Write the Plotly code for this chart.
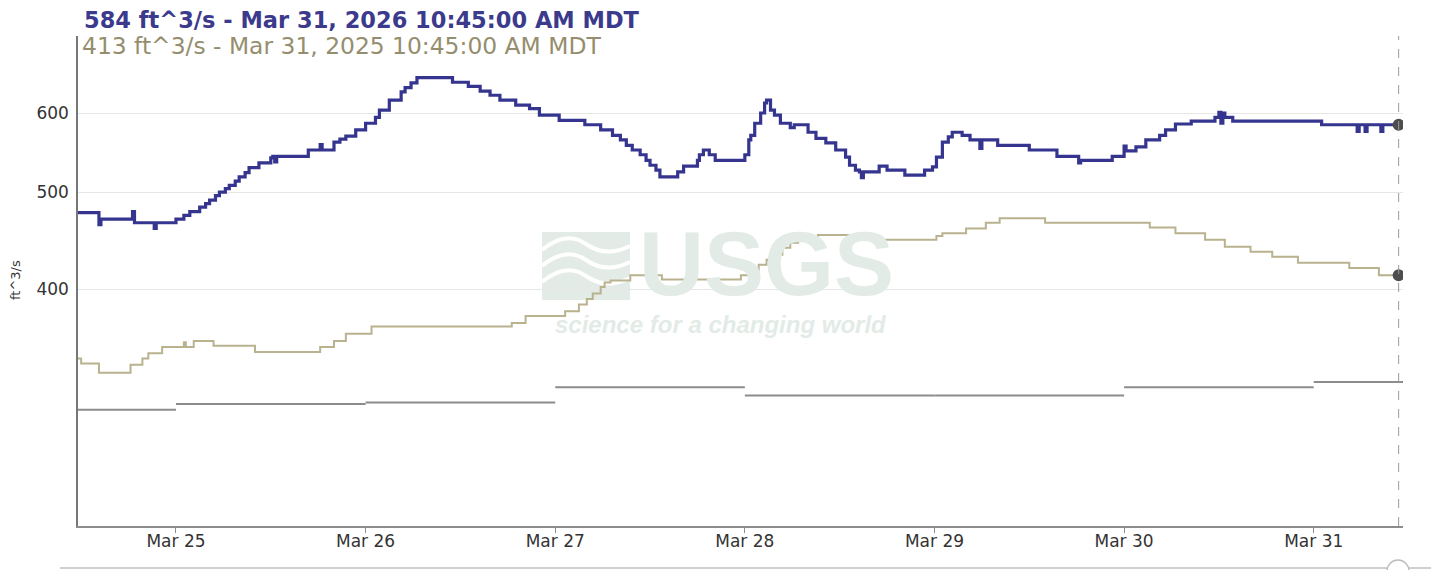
import math
import plotly.graph_objects as go

# ---- Discharge, 15-minute record (value holds until next timestamp) ----
blue_time = [
    "2026-03-24 11:30", "2026-03-24 14:15", "2026-03-24 14:30", "2026-03-24 18:30", "2026-03-24 18:45",
    "2026-03-24 21:15", "2026-03-24 21:30", "2026-03-25 00:00", "2026-03-25 01:00", "2026-03-25 01:45",
    "2026-03-25 03:00", "2026-03-25 03:45", "2026-03-25 04:15", "2026-03-25 05:00", "2026-03-25 05:30",
    "2026-03-25 06:15", "2026-03-25 06:45", "2026-03-25 07:30", "2026-03-25 08:00", "2026-03-25 08:45",
    "2026-03-25 09:15", "2026-03-25 10:30", "2026-03-25 12:00", "2026-03-25 12:15", "2026-03-25 12:30",
    "2026-03-25 12:45", "2026-03-25 16:45", "2026-03-25 18:15", "2026-03-25 18:30", "2026-03-25 20:00",
    "2026-03-25 20:45", "2026-03-25 21:30", "2026-03-25 22:45", "2026-03-26 00:00", "2026-03-26 01:15",
    "2026-03-26 01:45", "2026-03-26 03:00", "2026-03-26 04:30", "2026-03-26 05:00", "2026-03-26 05:45",
    "2026-03-26 06:30", "2026-03-26 11:00", "2026-03-26 13:00", "2026-03-26 14:30", "2026-03-26 15:45",
    "2026-03-26 17:00", "2026-03-26 19:00", "2026-03-26 20:45", "2026-03-26 22:00", "2026-03-27 00:30",
    "2026-03-27 03:45", "2026-03-27 05:45", "2026-03-27 07:15", "2026-03-27 08:15", "2026-03-27 09:00",
    "2026-03-27 09:45", "2026-03-27 10:45", "2026-03-27 11:30", "2026-03-27 12:00", "2026-03-27 12:45",
    "2026-03-27 13:15", "2026-03-27 15:30", "2026-03-27 16:15", "2026-03-27 18:00", "2026-03-27 18:15",
    "2026-03-27 18:45", "2026-03-27 19:30", "2026-03-27 20:15", "2026-03-28 00:00", "2026-03-28 00:30",
    "2026-03-28 00:45", "2026-03-28 01:15", "2026-03-28 02:00", "2026-03-28 02:30", "2026-03-28 02:45",
    "2026-03-28 03:15", "2026-03-28 03:45", "2026-03-28 04:30", "2026-03-28 05:45", "2026-03-28 06:15",
    "2026-03-28 08:00", "2026-03-28 09:00", "2026-03-28 10:15", "2026-03-28 11:30", "2026-03-28 12:45",
    "2026-03-28 13:15", "2026-03-28 14:00", "2026-03-28 14:30", "2026-03-28 14:45", "2026-03-28 15:00",
    "2026-03-28 17:00", "2026-03-28 18:00", "2026-03-28 20:15", "2026-03-28 22:45", "2026-03-28 23:45",
    "2026-03-29 00:15", "2026-03-29 01:00", "2026-03-29 01:45", "2026-03-29 02:15", "2026-03-29 03:30",
    "2026-03-29 04:30", "2026-03-29 05:45", "2026-03-29 06:00", "2026-03-29 08:00", "2026-03-29 12:00",
    "2026-03-29 15:30", "2026-03-29 18:15", "2026-03-29 18:30", "2026-03-29 22:30", "2026-03-30 00:00",
    "2026-03-30 00:15", "2026-03-30 01:30", "2026-03-30 02:45", "2026-03-30 04:30", "2026-03-30 05:15",
    "2026-03-30 06:30", "2026-03-30 08:30", "2026-03-30 11:30", "2026-03-30 12:00", "2026-03-30 12:15",
    "2026-03-30 12:30", "2026-03-30 12:45", "2026-03-30 13:45", "2026-03-31 01:00", "2026-03-31 05:30",
    "2026-03-31 05:45", "2026-03-31 06:30", "2026-03-31 06:45", "2026-03-31 08:30", "2026-03-31 08:45",
    "2026-03-31 10:45",
]
blue_flow = [
    477, 464, 470, 478, 466,
    460, 466, 470, 474, 478,
    483, 487, 491, 496, 500,
    504, 508, 513, 518, 523,
    529, 535, 541, 543, 536,
    543, 551, 558, 551, 561,
    565, 569, 577, 586, 594,
    604, 618, 630, 636, 643,
    651, 644, 638, 631, 625,
    618, 611, 606, 597, 590,
    584, 577, 570, 564, 557,
    551, 545, 538, 532, 526,
    518, 524, 531, 538, 545,
    551, 545, 538, 545, 564,
    570, 586, 600, 614, 618,
    604, 597, 586, 580, 584,
    574, 566, 560, 551, 542,
    532, 526, 524, 517, 524,
    531, 526, 520, 526, 530,
    542, 561, 568, 574, 570,
    564, 553, 564, 557, 551,
    543, 535, 538, 543, 556,
    550, 555, 564, 570, 577,
    585, 589, 594, 601, 586,
    600, 594, 589, 584, 575,
    584, 575, 584, 575, 584,
    584,
]

# ---- Same period one year earlier, overlaid on this year's dates ----
gold_time = [
    "2026-03-24 11:30", "2026-03-24 12:00", "2026-03-24 14:15", "2026-03-24 18:15", "2026-03-24 19:45",
    "2026-03-24 20:30", "2026-03-24 22:15", "2026-03-25 01:00", "2026-03-25 01:15", "2026-03-25 02:15",
    "2026-03-25 04:45", "2026-03-25 10:00", "2026-03-25 18:15", "2026-03-25 20:00", "2026-03-25 21:30",
    "2026-03-26 00:45", "2026-03-26 18:30", "2026-03-26 20:15", "2026-03-27 01:15", "2026-03-27 03:00",
    "2026-03-27 04:00", "2026-03-27 04:45", "2026-03-27 05:45", "2026-03-27 06:15", "2026-03-27 07:00",
    "2026-03-27 09:30", "2026-03-27 13:30", "2026-03-27 23:30", "2026-03-28 01:00", "2026-03-28 01:45",
    "2026-03-28 02:45", "2026-03-28 03:30", "2026-03-28 04:45", "2026-03-28 05:45", "2026-03-28 06:45",
    "2026-03-28 09:15", "2026-03-28 15:30", "2026-03-29 00:15", "2026-03-29 01:00", "2026-03-29 04:00",
    "2026-03-29 06:30", "2026-03-29 08:15", "2026-03-29 14:00", "2026-03-30 03:15", "2026-03-30 06:30",
    "2026-03-30 10:15", "2026-03-30 12:45", "2026-03-30 16:00", "2026-03-30 18:45", "2026-03-30 22:00",
    "2026-03-31 04:30", "2026-03-31 08:15", "2026-03-31 10:45",
]
gold_flow = [
    341, 337, 330, 336, 341,
    345, 350, 354, 350, 355,
    351, 346, 350, 355, 361,
    367, 370, 376, 380, 386,
    391, 396, 402, 406, 408,
    413, 409, 413, 418, 423,
    428, 433, 440, 445, 449,
    453, 448, 452, 455, 460,
    466, 471, 466, 461, 455,
    448, 441, 436, 431, 425,
    420, 413, 413,
]

# ---- Daily median statistic ----
median_day = ["2026-03-24", "2026-03-25", "2026-03-26", "2026-03-27",
              "2026-03-28", "2026-03-29", "2026-03-30", "2026-03-31"]
median_flow = [303, 307, 308, 319, 313, 313, 319, 323]

x_tick_vals = ["2026-03-25", "2026-03-26", "2026-03-27", "2026-03-28",
               "2026-03-29", "2026-03-30", "2026-03-31"]
x_tick_text = ["Mar 25", "Mar 26", "Mar 27", "Mar 28", "Mar 29", "Mar 30", "Mar 31"]
y_tick_vals = [400, 500, 600]
y_tick_text = ["400", "500", "600"]

current_label = "584 ft^3/s - Mar 31, 2026 10:45:00 AM MDT"
prior_label = "413 ft^3/s - Mar 31, 2025 10:45:00 AM MDT"

X_START, X_END = "2026-03-24 11:36", "2026-03-31 11:18"
NOW = "2026-03-31 10:45"

BLUE = "#35358f"
GOLD = "#b9b28e"
GRAY = "#8c8c8c"
FONT = "DejaVu Sans"

# figure geometry (pixels)
W, H = 1431, 570
L, R, T, B = 78, 28, 36, 44
PW, PH = W - L - R, H - T - B


def px(x):
    return (x - L) / PW


def py(y):
    return (H - B - y) / PH


fig = go.Figure()

# daily median: one flat segment per day, not joined
med_x, med_y = [], []
for i, d in enumerate(median_day):
    end = median_day[i + 1] if i + 1 < len(median_day) else "2026-04-01"
    med_x += [d, end, None]
    med_y += [median_flow[i], median_flow[i], None]
fig.add_trace(go.Scatter(x=med_x, y=med_y, mode="lines",
                         line=dict(color=GRAY, width=2), hoverinfo="skip",
                         showlegend=False))

fig.add_trace(go.Scatter(x=gold_time, y=gold_flow, mode="lines",
                         line=dict(color=GOLD, width=2, shape="hv"),
                         showlegend=False))
fig.add_trace(go.Scatter(x=blue_time, y=blue_flow, mode="lines",
                         line=dict(color=BLUE, width=3.2, shape="hv"),
                         showlegend=False))

# current-value markers
fig.add_trace(go.Scatter(x=[blue_time[-1], gold_time[-1]], y=[blue_flow[-1], gold_flow[-1]],
                         mode="markers", marker=dict(color="#4d4d4d", size=12),
                         showlegend=False))

shapes = []
# USGS emblem watermark
WM = "#e3ebe7"
shapes.append(dict(type="rect", xref="paper", yref="paper",
                   x0=px(542), x1=px(630), y0=py(300), y1=py(232),
                   fillcolor=WM, line=dict(width=0), layer="below"))
for off in (0, 16, 32):
    a, b = 250 + off, 244 + off
    path = (f"M {px(542)},{py(a)} Q {px(566)},{py(b - 14)} {px(586)},{py(b)} "
            f"T {px(630)},{py(b + 2)}")
    shapes.append(dict(type="path", xref="paper", yref="paper", path=path,
                       line=dict(color="white", width=4), layer="below"))

# current-time marker
shapes.append(dict(type="line", xref="x", yref="paper", x0=NOW, x1=NOW, y0=0, y1=1,
                   line=dict(color="#9a9a9a", width=1, dash="dash")))
# navigator rail at the bottom
shapes.append(dict(type="line", xref="paper", yref="paper", x0=px(60), x1=px(1431),
                   y0=py(568), y1=py(568), line=dict(color="#cfcfcf", width=2)))
shapes.append(dict(type="circle", xref="paper", yref="paper",
                   x0=px(1387), x1=px(1409), y0=py(582), y1=py(560),
                   fillcolor="white", line=dict(color="#bdbdbd", width=1.5)))

annotations = [
    dict(text="<b>USGS</b>", xref="paper", yref="paper", x=px(766), y=py(264),
         xanchor="center", yanchor="middle", showarrow=False,
         font=dict(family="Liberation Sans", size=90, color=WM)),
    dict(text="<b><i>science for a changing world</i></b>", xref="paper", yref="paper",
         x=px(721), y=py(324), xanchor="center", yanchor="middle", showarrow=False,
         font=dict(family="Liberation Sans", size=24, color=WM)),
    dict(text=f"<b>{current_label}</b>", xref="paper", yref="paper", x=px(82), y=py(20),
         xanchor="left", yanchor="middle", showarrow=False,
         font=dict(family=FONT, size=22.5, color="#3b3a8c")),
    dict(text=prior_label, xref="paper", yref="paper", x=px(80), y=py(46),
         xanchor="left", yanchor="middle", showarrow=False,
         font=dict(family=FONT, size=23.4, color="#958e6e")),
    dict(text="ft^3/s", xref="paper", yref="paper", x=px(15), y=py(280),
         xanchor="center", yanchor="middle", textangle=-90, showarrow=False,
         font=dict(family=FONT, size=13, color="#333333")),
]

fig.update_layout(
    width=W, height=H,
    margin=dict(l=L, r=R, t=T, b=B),
    paper_bgcolor="white", plot_bgcolor="white",
    shapes=shapes, annotations=annotations,
    font=dict(family=FONT, color="#333333"),
    xaxis=dict(type="date", range=[X_START, X_END],
               tickvals=x_tick_vals, ticktext=x_tick_text,
               ticks="outside", ticklen=5, tickcolor="#8c8c8c",
               showline=True, linecolor="#8c8c8c", linewidth=2,
               showgrid=False, zeroline=False, ticklabelstandoff=-6,
               tickfont=dict(family=FONT, size=17, color="#333333")),
    yaxis=dict(type="log", range=[2.36515, 2.85515],
               tickvals=y_tick_vals, ticktext=y_tick_text,
               showline=True, linecolor="#777777", linewidth=1.5,
               showgrid=True, gridcolor="#e6e6e6", gridwidth=1,
               ticks="", ticklabelstandoff=4, zeroline=False,
               tickfont=dict(family=FONT, size=17, color="#333333")),
)

fig.write_html("out.html")
